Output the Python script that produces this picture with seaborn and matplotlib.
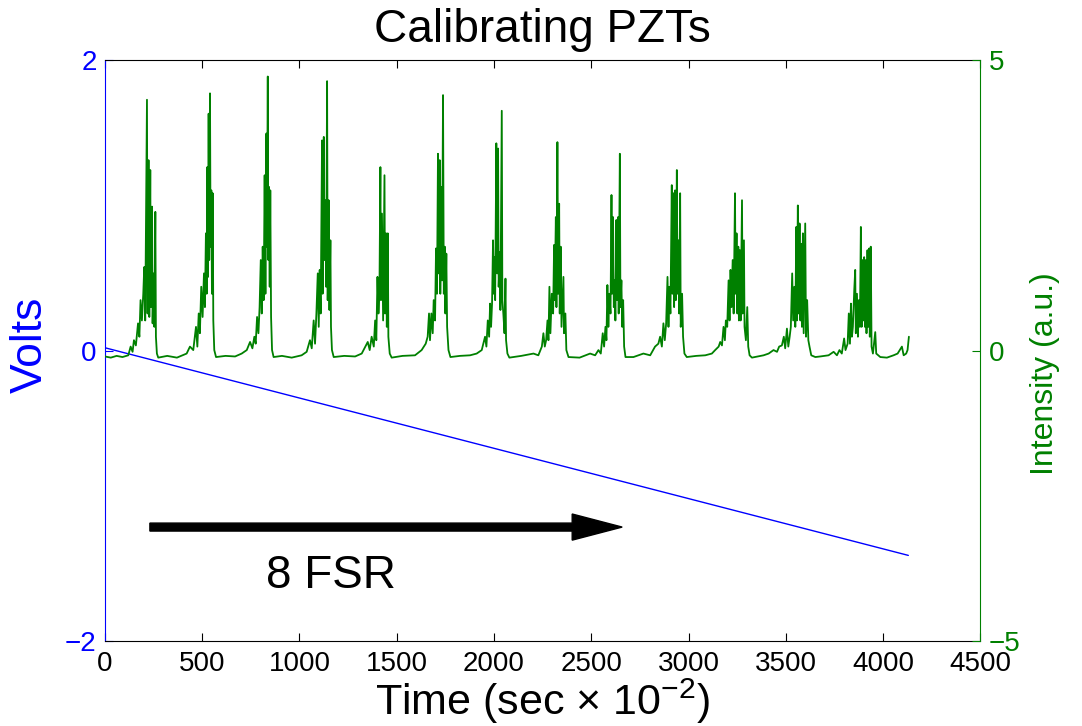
import numpy as np
import pandas as pd
import matplotlib
matplotlib.use("Agg")
import matplotlib.pyplot as plt
import seaborn as sns

# ---------------- data ----------------
x_ticks = [0, 500, 1000, 1500, 2000, 2500, 3000, 3500, 4000, 4500]
volt_ticks = [-2, 0, 2]
intensity_ticks = [-5, 0, 5]

# PZT drive voltage ramp (Volts)
ramp_t = [0, 4130]
ramp_v = [0.02, -1.41]

# Transmitted intensity (a.u.), (time, intensity) readings per resonance
trace_start = [(0, -0.10), (30, -0.12), (60, -0.09), (90, -0.11)]
peak01 = [(120, -0.08), (132, 0.07), (142, -0.02), (149, 0.18), (159, 0.09), (170, 0.47), (177, 0.24),
          (183, 0.87), (190, 0.52), (197, 0.98), (202, 1.44), (207, 0.52), (212, 2.53), (216, 4.32),
          (219, 0.64), (224, 3.28), (228, 0.58), (233, 3.11), (236, 0.75), (242, 2.48), (245, 0.47),
          (250, 1.33), (254, 0.41), (259, 2.39), (262, 0.24), (267, -0.05), (274, -0.12), (320, -0.09),
          (370, -0.12)]
peak02 = [(420, -0.05), (437, 0.07), (454, 0.01), (468, 0.41), (475, 0.07), (482, 0.64), (488, 0.30),
          (495, 1.10), (502, 0.58), (509, 1.33), (514, 0.75), (519, 2.02), (523, 0.98), (526, 3.16),
          (530, 1.27), (533, 4.08), (536, 1.56), (540, 4.43), (543, 1.79), (547, 2.76), (550, 0.98),
          (554, 2.71), (557, 0.52), (562, 0.01), (571, -0.11), (620, -0.09)]
peak03 = [(669, -0.10), (703, -0.05), (729, 0.01), (746, 0.15), (758, 0.04), (768, 0.24), (775, 0.12),
          (782, 0.58), (789, 0.30), (795, 0.75), (801, 1.56), (806, 0.64), (811, 1.79), (816, 0.87),
          (821, 3.02), (825, 0.98), (830, 3.74), (833, 1.79), (837, 4.72), (840, 1.56), (843, 2.82),
          (847, 1.10), (850, 2.76), (854, 0.58), (859, 0.01), (867, -0.11), (910, -0.09), (960, -0.12)]
peak04 = [(1011, -0.08), (1037, -0.02), (1054, 0.18), (1063, 0.04), (1073, 0.52), (1080, 0.12),
          (1087, 0.64), (1094, 1.33), (1099, 0.41), (1104, 1.39), (1109, 0.64), (1116, 3.62), (1119, 0.98),
          (1125, 3.68), (1128, 1.56), (1133, 2.59), (1137, 1.10), (1142, 4.64), (1145, 0.87), (1150, 2.59),
          (1154, 0.70), (1159, 1.90), (1162, 0.41), (1167, 0.01), (1176, -0.11), (1230, -0.09)]
peak05 = [(1286, -0.10), (1320, -0.05), (1351, 0.15), (1361, 0.01), (1371, 0.24), (1382, 0.07),
          (1389, 0.52), (1395, 0.18), (1401, 1.27), (1406, 0.64), (1411, 0.98), (1416, 3.16), (1419, 0.87),
          (1424, 2.36), (1430, 0.52), (1437, 3.02), (1440, 0.64), (1445, 2.02), (1449, 0.41), (1454, 2.02),
          (1457, 0.24), (1464, -0.05), (1474, -0.12), (1530, -0.09)]
peak06 = [(1594, -0.08), (1628, 0.01), (1649, 0.12), (1659, 0.24), (1666, 0.64), (1671, 0.18),
          (1678, 0.64), (1685, 0.30), (1690, 0.87), (1697, 0.52), (1702, 1.76), (1707, 0.98), (1712, 3.39),
          (1716, 1.33), (1721, 3.28), (1724, 0.98), (1730, 2.82), (1733, 1.21), (1738, 4.40), (1742, 0.98),
          (1747, 1.79), (1750, 0.64), (1755, 1.67), (1759, 0.41), (1766, 0.01), (1776, -0.11), (1825, -0.09)]
peak07 = [(1877, -0.08), (1911, -0.05), (1937, 0.01), (1954, 0.24), (1961, 0.07), (1968, 0.52),
          (1975, 0.24), (1980, 0.81), (1985, 0.41), (1990, 0.81), (1995, 1.90), (1999, 0.98), (2002, 1.61),
          (2006, 0.87), (2012, 3.57), (2016, 1.33), (2021, 3.48), (2024, 1.10), (2030, 1.70), (2033, 0.70),
          (2040, 4.13), (2043, 0.87), (2048, 0.64), (2054, 0.30), (2059, 1.24), (2062, 0.18), (2069, -0.05),
          (2079, -0.12), (2140, -0.09)]
peak08 = [(2203, -0.05), (2228, -0.08), (2246, 0.07), (2254, 0.30), (2261, 0.07), (2268, 0.18),
          (2275, 0.52), (2280, 0.18), (2285, 1.10), (2290, 0.30), (2297, 0.98), (2304, 0.64), (2309, 1.82),
          (2312, 0.87), (2318, 2.30), (2321, 0.75), (2326, 3.59), (2330, 0.98), (2335, 2.53), (2338, 0.64),
          (2343, 1.79), (2347, 0.41), (2357, 1.27), (2360, 0.30), (2367, 0.64), (2372, 0.01), (2383, -0.11),
          (2440, -0.12)]
peak09 = [(2494, -0.05), (2520, -0.08), (2537, 0.01), (2549, -0.05), (2559, 0.30), (2566, 0.07),
          (2573, 0.41), (2578, 0.18), (2583, 1.13), (2588, 0.41), (2593, 0.98), (2599, 0.64), (2604, 2.68),
          (2607, 0.98), (2612, 2.30), (2616, 0.75), (2621, 1.21), (2624, 0.52), (2629, 2.25), (2633, 0.87),
          (2638, 2.30), (2641, 0.64), (2647, 3.39), (2650, 0.75), (2655, 1.21), (2659, 0.41), (2664, 0.87),
          (2669, 0.07), (2676, -0.11)]
peak10 = [(2717, -0.11), (2768, -0.05), (2803, -0.08), (2828, 0.07), (2845, 0.12), (2854, 0.24),
          (2863, 0.07), (2871, 0.47), (2878, 0.18), (2885, 0.47), (2892, 1.27), (2897, 0.41), (2902, 1.10),
          (2907, 0.64), (2914, 2.85), (2917, 0.98), (2923, 2.71), (2926, 0.75), (2931, 2.76), (2935, 0.87),
          (2940, 3.11), (2943, 0.98), (2948, 1.90), (2952, 0.64), (2957, 2.71), (2960, 0.41), (2967, 0.98),
          (2972, 0.24), (2979, -0.05), (2991, -0.11), (3040, -0.09)]
peak11 = [(3086, -0.08), (3120, -0.05), (3137, 0.01), (3155, 0.07), (3163, 0.15), (3172, 0.09),
          (3180, 0.41), (3187, 0.18), (3192, 0.52), (3199, 0.41), (3206, 1.21), (3211, 0.52), (3216, 1.39),
          (3221, 0.75), (3227, 1.56), (3232, 0.64), (3239, 2.71), (3242, 0.98), (3247, 2.02), (3251, 0.64),
          (3256, 1.79), (3259, 0.52), (3264, 1.73), (3268, 0.52), (3275, 2.59), (3278, 0.64), (3285, 1.90),
          (3288, 0.41), (3295, 0.18), (3302, 0.75), (3307, 0.07), (3314, -0.08), (3326, -0.12), (3386, -0.08)]
peak12 = [(3412, -0.05), (3437, 0.01), (3455, -0.02), (3466, 0.07), (3480, 0.09), (3490, 0.24),
          (3497, 0.04), (3506, 0.38), (3513, 0.07), (3520, 0.24), (3526, 0.41), (3533, 1.33), (3538, 0.52),
          (3544, 1.10), (3549, 0.41), (3554, 2.13), (3557, 0.52), (3562, 2.50), (3566, 0.64), (3571, 2.19),
          (3575, 0.52), (3580, 1.84), (3583, 0.41), (3588, 2.02), (3592, 0.30), (3600, 2.19), (3604, 0.24),
          (3610, 0.87), (3616, 0.18), (3622, 0.07), (3631, -0.08), (3652, -0.11)]
peak13 = [(3677, -0.10), (3720, -0.08), (3746, -0.02), (3763, -0.08), (3776, 0.01), (3788, -0.05),
          (3800, 0.21), (3807, 0.01), (3818, 0.12), (3824, 0.64), (3830, 0.12), (3835, 0.81), (3840, 0.24),
          (3845, 0.41), (3852, 1.04), (3857, 1.39), (3860, 0.30), (3866, 0.98), (3871, 0.24), (3876, 0.87),
          (3881, 0.41), (3886, 2.13), (3890, 0.41), (3895, 1.56), (3898, 0.52), (3903, 1.61), (3907, 0.41),
          (3912, 1.56), (3915, 0.30), (3920, 1.73), (3924, 0.41), (3929, 1.76), (3932, 0.24), (3937, 1.79),
          (3941, 0.07), (3948, -0.05), (3960, 0.32), (3965, -0.05), (3986, -0.11), (4020, -0.12),
          (4054, -0.08), (4075, -0.05), (4097, 0.07), (4106, -0.08), (4119, -0.05), (4126, 0.01), (4133, 0.24)]

# annotation: scan direction arrow and label
arrow_t = [231, 2659]
arrow_v = -1.215
fsr_label = "8 FSR"
fsr_pos = (1162, -1.55)

# ---------------- build tables ----------------
segments = [trace_start, peak01, peak02, peak03, peak04, peak05, peak06, peak07,
            peak08, peak09, peak10, peak11, peak12, peak13]
trace = pd.DataFrame([p for seg in segments for p in seg], columns=["t", "intensity"])
ramp = pd.DataFrame({"t": ramp_t, "volts": ramp_v})

# ---------------- style ----------------
sns.set_style("white")
plt.rcParams["font.family"] = ["Liberation Sans", "DejaVu Sans"]
plt.rcParams["axes.unicode_minus"] = True
plt.rcParams["text.color"] = "black"
plt.rcParams["axes.labelcolor"] = "black"
plt.rcParams["xtick.color"] = "black"
plt.rcParams["ytick.color"] = "black"

BLUE = "#0000ff"
GREEN = "#008000"

fig = plt.figure(figsize=(10.82, 7.26), dpi=100)
ax = fig.add_axes([0.097, 0.117, 0.809, 0.800])
ax2 = ax.twinx()

sns.lineplot(data=ramp, x="t", y="volts", ax=ax, color=BLUE, linewidth=1.0,
             estimator=None, sort=False)
sns.lineplot(data=trace, x="t", y="intensity", ax=ax2, color=GREEN, linewidth=1.3,
             estimator=None, sort=False)

# arrow + label
ax.arrow(arrow_t[0], arrow_v, arrow_t[1] - arrow_t[0], 0, width=0.055, head_width=0.18,
         head_length=257, length_includes_head=True, fc="black", ec="black", zorder=5)
ax.text(fsr_pos[0], fsr_pos[1], fsr_label, fontsize=33, ha="center", va="center", color="black")

# limits / ticks
ax.set_xlim(0, 4500)
ax.set_ylim(-2, 2)
ax2.set_ylim(-5, 5)
ax.set_xticks(x_ticks)
ax.set_yticks(volt_ticks)
ax2.set_yticks(intensity_ticks)

ax.tick_params(axis="x", direction="in", top=True, bottom=True, length=6, width=0.8,
               labelsize=20, pad=7, colors="black")
ax.tick_params(axis="y", direction="in", left=True, right=False, length=6, width=0.8,
               labelsize=20, pad=6, colors=BLUE)
ax2.tick_params(axis="y", direction="in", right=True, left=False, length=6, width=0.8,
                labelsize=20, pad=6, colors=GREEN)

for s in ["top", "bottom"]:
    ax.spines[s].set_color("black")
    ax.spines[s].set_linewidth(0.8)
    ax2.spines[s].set_visible(False)
ax.spines["left"].set_color(BLUE)
ax.spines["left"].set_linewidth(0.8)
ax.spines["right"].set_visible(False)
ax2.spines["left"].set_visible(False)
ax2.spines["right"].set_color(GREEN)
ax2.spines["right"].set_linewidth(0.8)

ax.set_xlabel("Time (sec × 10$^{\\mathregular{−2}}$)", fontsize=31, labelpad=0, color="black")
ax.set_ylabel("Volts", fontsize=32, color=BLUE)
ax2.set_ylabel("Intensity (a.u.)", fontsize=23, color=GREEN)
ax.yaxis.set_label_coords(-0.062, 0.51)
ax2.yaxis.set_label_coords(1.057, 0.46)
ax.set_title("Calibrating PZTs", fontsize=33, pad=13, color="black")

fig.savefig("out.png", dpi=100)
